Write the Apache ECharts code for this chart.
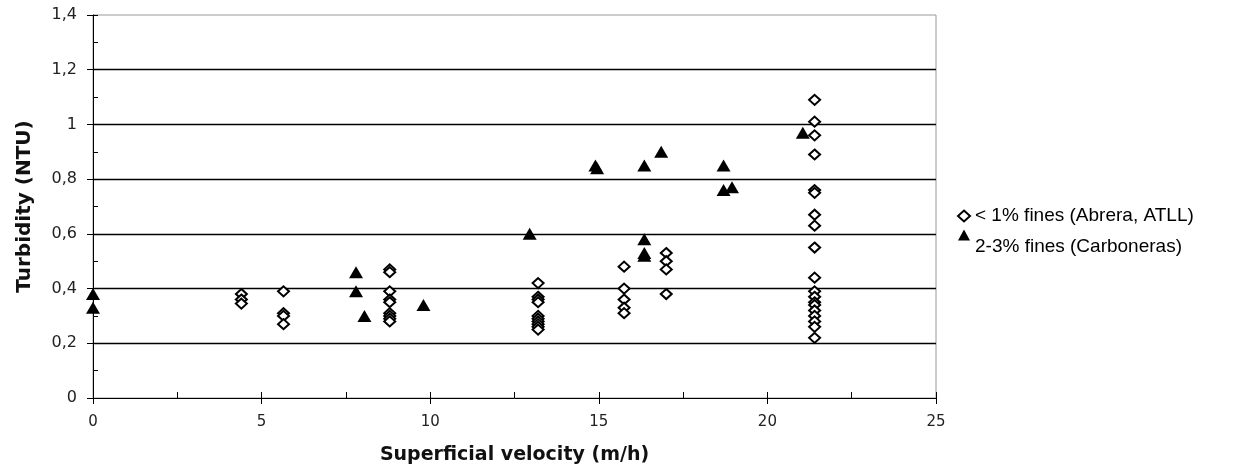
<!DOCTYPE html>
<html>
<head>
<meta charset="utf-8">
<script src="https://cdn.jsdelivr.net/npm/echarts@6/dist/echarts.min.js"></script>
<style>
  html, body { margin: 0; padding: 0; background: #fff; }
  #chart { width: 1254px; height: 474px; }
</style>
</head>
<body>
<div id="chart"></div>
<script>
// < 1% fines (Abrera, ATLL) - hollow diamonds
const finesLowVel = [
  4.4, 4.4, 4.4,
  5.65, 5.65, 5.65, 5.65,
  8.8, 8.8, 8.8, 8.8, 8.8, 8.8, 8.8, 8.8, 8.8,
  13.2, 13.2, 13.2, 13.2, 13.2, 13.2, 13.2, 13.2, 13.2, 13.2,
  15.75, 15.75, 15.75, 15.75, 15.75,
  17.0, 17.0, 17.0, 17.0,
  21.4, 21.4, 21.4, 21.4, 21.4, 21.4, 21.4, 21.4, 21.4, 21.4, 21.4,
  21.4, 21.4, 21.4, 21.4, 21.4, 21.4, 21.4, 21.4
];
const finesLowTurb = [
  0.38, 0.36, 0.345,
  0.39, 0.31, 0.30, 0.27,
  0.47, 0.46, 0.39, 0.36, 0.35, 0.31, 0.30, 0.29, 0.28,
  0.42, 0.37, 0.36, 0.35, 0.30, 0.29, 0.28, 0.27, 0.26, 0.25,
  0.48, 0.40, 0.36, 0.33, 0.31,
  0.53, 0.50, 0.47, 0.38,
  1.09, 1.01, 0.96, 0.89, 0.76, 0.75, 0.67, 0.63, 0.55, 0.44, 0.39,
  0.37, 0.35, 0.34, 0.32, 0.30, 0.28, 0.26, 0.22
];

// 2-3% fines (Carboneras) - filled triangles
const finesHighVel = [0, 0, 7.8, 7.8, 8.05, 9.8, 12.95, 14.9, 14.95, 16.35, 16.35, 16.35, 16.35, 16.85, 18.7, 18.7, 18.95, 21.05];
const finesHighTurb = [0.38, 0.33, 0.46, 0.39, 0.30, 0.34, 0.60, 0.85, 0.84, 0.85, 0.58, 0.53, 0.52, 0.90, 0.85, 0.76, 0.77, 0.97];

const seriesNames = ['< 1% fines (Abrera, ATLL)', '2-3% fines (Carboneras)'];
const xTitle = 'Superficial velocity (m/h)';
const yTitle = 'Turbidity (NTU)';

function pairs(xs, ys) {
  return xs.map((x, i) => [x, ys[i]]);
}

const chart = echarts.init(document.getElementById('chart'));
const labelFont = 'DejaVu Sans';

const option = {
  animation: false,
  backgroundColor: '#fff',
  grid: {
    left: 93, right: 318, top: 15, bottom: 76,
    show: true, borderColor: '#9a9a9a', borderWidth: 1, backgroundColor: 'transparent'
  },
  legend: {
    orient: 'vertical',
    left: 952,
    top: 199,
    itemGap: -17,
    itemWidth: 12,
    itemHeight: 11,
    textStyle: { fontFamily: 'Liberation Sans', fontSize: 19, lineHeight: 24, color: '#000' },
    // the marker of the 2nd entry sits above its text, as in the original
    formatter: name => (name === seriesNames[1] ? '\n' + name : name),
    data: seriesNames
  },
  xAxis: [{
    type: 'value',
    min: 0, max: 25, interval: 5,
    name: xTitle,
    nameLocation: 'middle',
    nameGap: 48,
    nameTextStyle: { fontFamily: labelFont, fontWeight: 'bold', fontSize: 19, color: '#111' },
    axisLine: { show: true, lineStyle: { color: '#000', width: 1 } },
    axisTick: { show: true, inside: false, length: 6, lineStyle: { color: '#000' } },
    axisLabel: { fontFamily: labelFont, fontSize: 15, color: '#222', margin: 17 },
    splitLine: { show: false }
  }, {
    type: 'value',
    position: 'bottom',
    min: 0, max: 25, interval: 2.5,
    axisLine: { show: false },
    axisTick: { show: true, inside: true, length: 6, lineStyle: { color: '#000' } },
    axisLabel: { show: false },
    splitLine: { show: false }
  }],
  yAxis: [{
    type: 'value',
    min: 0, max: 1.4, interval: 0.2,
    name: yTitle,
    nameLocation: 'middle',
    nameGap: 58,
    nameTextStyle: { fontFamily: labelFont, fontWeight: 'bold', fontSize: 20, color: '#111' },
    axisLine: { show: true, lineStyle: { color: '#000', width: 1 } },
    axisTick: { show: true, inside: false, length: 6, lineStyle: { color: '#000' } },
    axisLabel: {
      fontFamily: labelFont, fontSize: 16, color: '#222', margin: 16,
      formatter: v => String(Math.round(v * 10) / 10).replace('.', ',')
    },
    splitLine: { show: true, showMinLine: false, showMaxLine: false, lineStyle: { color: '#000', width: 1.3 } }
  }, {
    type: 'value',
    position: 'left',
    min: 0, max: 1.4, interval: 0.1,
    axisLine: { show: false },
    axisTick: { show: true, inside: true, length: 5, lineStyle: { color: '#000' } },
    axisLabel: { show: false },
    splitLine: { show: false }
  }],
  series: [{
    name: seriesNames[0],
    type: 'scatter',
    symbol: 'diamond',
    symbolSize: [11, 10],
    itemStyle: { color: '#fff', borderColor: '#000', borderWidth: 2, opacity: 1 },
    data: pairs(finesLowVel, finesLowTurb),
    z: 3
  }, {
    name: seriesNames[1],
    type: 'scatter',
    symbol: 'triangle',
    symbolSize: [14, 12],
    itemStyle: { color: '#000', opacity: 1 },
    data: pairs(finesHighVel, finesHighTurb),
    z: 4
  }]
};

chart.setOption(option);
</script>
</body>
</html>
